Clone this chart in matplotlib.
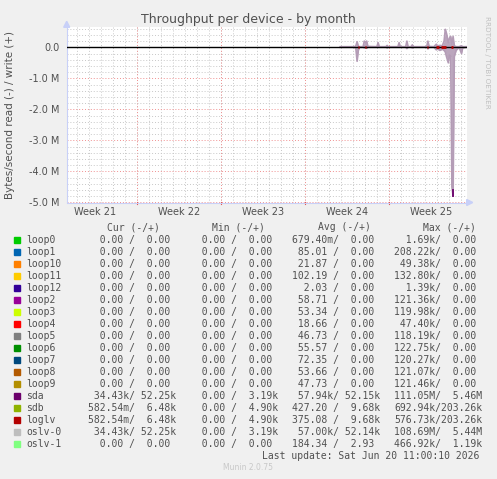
import matplotlib
matplotlib.use("Agg")
import matplotlib.pyplot as plt
from matplotlib.patches import Rectangle, Polygon

W, H = 497, 479

# --- data (days from left edge of graph, values in M bytes/s) ---
week_names = ["Week 21", "Week 22", "Week 23", "Week 24", "Week 25"]
week_starts = [5.86, 12.86, 19.86, 26.86]

# sda / oslv-0 : write (+) and read (-)
sda_t = [22.8, 24.0, 24.1, 24.2, 24.3, 24.4, 24.7, 24.8, 24.9, 25.0, 25.1, 25.85, 25.95, 26.05,
         26.6, 26.7, 26.8, 27.6, 27.7, 27.8, 28.25, 28.35, 28.45, 28.7, 28.8, 28.9, 30.0, 30.1,
         30.2, 30.6, 30.8, 30.9, 31.1, 31.3, 31.45, 31.55, 31.65, 31.8, 31.9, 32.0, 32.1, 32.2,
         32.3, 32.45, 32.7, 32.9, 33.0, 33.33]
sda_write = [0.02, 0.02, 0.05, 0.18, 0.04, 0.02, 0.02, 0.2, 0.15, 0.2, 0.03, 0.02, 0.15, 0.02,
             0.02, 0.06, 0.02, 0.02, 0.15, 0.02, 0.02, 0.2, 0.02, 0.02, 0.08, 0.02, 0.02, 0.2,
             0.03, 0.02, 0.1, 0.05, 0.06, 0.05, 0.2, 0.58, 0.45, 0.15, 0.3, 0.35, 0.1, 0.35,
             0.05, 0.02, 0.02, 0.05, 0.02, 0.02]
sda_read = [0.0, 0.0, -0.05, -0.45, -0.1, 0.0, 0.0, -0.02, 0.0, -0.03, 0.0, 0.0, 0.0, 0.0,
            0.0, -0.02, 0.0, 0.0, 0.0, 0.0, 0.0, -0.04, 0.0, 0.0, -0.02, 0.0, 0.0, -0.05,
            0.0, 0.0, -0.08, -0.05, -0.1, -0.06, -0.1, -0.15, -0.3, -0.5, -0.25, -0.3, -4.5, -4.8,
            -0.3, -0.1, 0.0, -0.2, -0.02, 0.0]

# loglv / sdb small activity near zero
loglv_t = [24.25, 24.35, 24.85, 24.95, 30.05, 30.15, 30.8, 31.0, 31.2, 31.6, 32.05, 32.2]
loglv_v = [0.01, 0.01, 0.01, 0.01, 0.01, 0.01, 0.01, 0.01, 0.01, 0.01, 0.01, 0.01]

names = ["loop0", "loop1", "loop10", "loop11", "loop12", "loop2", "loop3", "loop4", "loop5",
         "loop6", "loop7", "loop8", "loop9", "sda", "sdb", "loglv", "oslv-0", "oslv-1"]
colors = ["#00CC00", "#0066B3", "#FF8000", "#FFCC00", "#330099", "#990099", "#CCFF00", "#FF0000",
          "#808080", "#008F00", "#00487D", "#B35A00", "#B38F00", "#6B006B", "#8FB300", "#B30000",
          "#BEBEBE", "#80FF80"]
cur = ["  0.00 /  0.00 "] * 13 + [" 34.43k/ 52.25k", "582.54m/  6.48k", "582.54m/  6.48k",
                                  " 34.43k/ 52.25k", "  0.00 /  0.00 "]
mins = ["  0.00 /  0.00 "] * 13 + ["  0.00 /  3.19k", "  0.00 /  4.90k", "  0.00 /  4.90k",
                                   "  0.00 /  3.19k", "  0.00 /  0.00 "]
avgs = ["679.40m/  0.00 ", " 85.01 /  0.00 ", " 21.87 /  0.00 ", "102.19 /  0.00 ",
        "  2.03 /  0.00 ", " 58.71 /  0.00 ", " 53.34 /  0.00 ", " 18.66 /  0.00 ",
        " 46.73 /  0.00 ", " 55.57 /  0.00 ", " 72.35 /  0.00 ", " 53.66 /  0.00 ",
        " 47.73 /  0.00 ", " 57.94k/ 52.15k", "427.20 /  9.68k", "375.08 /  9.68k",
        " 57.00k/ 52.14k", "184.34 /  2.93 "]
maxs = ["  1.69k/  0.00 ", "208.22k/  0.00 ", " 49.38k/  0.00 ", "132.80k/  0.00 ",
        "  1.39k/  0.00 ", "121.36k/  0.00 ", "119.98k/  0.00 ", " 47.40k/  0.00 ",
        "118.19k/  0.00 ", "122.75k/  0.00 ", "120.27k/  0.00 ", "121.07k/  0.00 ",
        "121.46k/  0.00 ", "111.05M/  5.46M", "692.94k/203.26k", "576.73k/203.26k",
        "108.69M/  5.44M", "466.92k/  1.19k"]


def fx(px):
    return px / W


def fy(py):
    return 1 - py / H


fig = plt.figure(figsize=(W / 100, H / 100), dpi=100, facecolor="#F0F0F0")
L, R, T, B = 66.7, 466.7, 27.3, 202.5
ax = fig.add_axes([fx(L), fy(B), (R - L) / W, (B - T) / H])
ax.set_facecolor("white")
ax.set_xlim(0, 400 / 12)
ax.set_ylim(-5.0, 0.645)

# grid
for d in range(1, 34):
    x = 137 / 12 - 66.7 / 12 + (d - 6)
    if 0 < x < 400 / 12:
        ax.axvline(x, color="#C8C8C8", lw=0.7, ls=(0, (1, 2)), zorder=0)
for x in week_starts:
    ax.axvline(x, color="#F09090", lw=0.7, ls=(0, (1, 2)), zorder=0)
for k in range(-25, 4):
    y = k * 0.2
    if k % 5 == 0:
        ax.axhline(y, color="#F09090", lw=0.7, ls=(0, (1, 2)), zorder=0)
    else:
        ax.axhline(y, color="#C8C8C8", lw=0.7, ls=(0, (1, 2)), zorder=0)

# data
ax.fill_between(sda_t, sda_write, 0, color="#BBA6BD", lw=0, zorder=2)
ax.fill_between(sda_t, sda_read, 0, color="#BBA6BD", lw=0, zorder=2)
ax.plot(sda_t, sda_write, color="#B49CB6", lw=1.2, zorder=3)
ax.plot(sda_t, sda_read, color="#B49CB6", lw=1.2, zorder=3)
ax.axhline(0, color="black", lw=1.0, zorder=4)
for i in range(0, len(loglv_t), 2):
    ax.plot(loglv_t[i:i + 2], loglv_v[i:i + 2], color="#B30000", lw=2, zorder=5,
            solid_capstyle="butt")
ax.plot([32.2, 32.2], [-4.6, -4.8], color="#6B006B", lw=1.3, zorder=5)

ax.set_yticks([0, -1, -2, -3, -4, -5])
ax.set_yticklabels(["0.0", "-1.0 M", "-2.0 M", "-3.0 M", "-4.0 M", "-5.0 M"])
ax.set_xticks([(a + b) / 2 for a, b in zip([-1.14] + week_starts, week_starts + [33.86])])
ax.set_xticklabels(week_names)
ax.tick_params(axis="both", length=0, labelsize=7, colors="#505050")
ax.tick_params(axis="y", pad=5)
ax.tick_params(axis="x", pad=3)
for s in ["top", "right"]:
    ax.spines[s].set_visible(False)
for s in ["left", "bottom"]:
    ax.spines[s].set_color("#C8D0F8")
    ax.spines[s].set_linewidth(0.8)
for x in week_starts:
    ax.plot([x, x], [-5.0, -5.06], color="#E05050", lw=0.8, clip_on=False)

# axis arrows
fig.add_artist(Polygon([[fx(L - 3), fy(T)], [fx(L + 3), fy(T)], [fx(L), fy(T - 6)]],
                       closed=True, color="#C8D0F8", transform=fig.transFigure))
fig.add_artist(Polygon([[fx(R), fy(B - 3)], [fx(R), fy(B + 3)], [fx(R + 6), fy(B)]],
                       closed=True, color="#C8D0F8", transform=fig.transFigure))

fig.text(fx(248), fy(19), "Throughput per device - by month", ha="center", va="center",
         fontsize=9, color="#505050")
fig.text(fx(10), fy(115), "Bytes/second read (-) / write (+)", ha="center", va="center",
         rotation=90, fontsize=7.5, color="#505050")
fig.text(fx(487), fy(62), "RRDTOOL / TOBI OETIKER", ha="center", va="center",
         rotation=270, fontsize=5.2, color="#C0C0C0")

mono = dict(family="DejaVu Sans Mono", fontsize=7, color="#505050", va="center", ha="left")
for x, h in zip([107, 212.3, 318.3, 423.3], ["Cur (-/+)", "Min (-/+)", "Avg (-/+)", "Max (-/+)"]):
    fig.text(fx(x), fy(227.5), h, **mono)
for i, n in enumerate(names):
    y = 240 + 12 * i
    fig.add_artist(Rectangle((fx(14), fy(y + 3)), 6 / W, 6 / H, color=colors[i],
                             transform=fig.transFigure))
    fig.text(fx(26.5), fy(y), n, **mono)
    fig.text(fx(87.5), fy(y), cur[i], **mono)
    fig.text(fx(189.9), fy(y), mins[i], **mono)
    fig.text(fx(291.7), fy(y), avgs[i], **mono)
    fig.text(fx(394.3), fy(y), maxs[i], **mono)
fig.text(fx(261.5), fy(455.7), "Last update: Sat Jun 20 11:00:10 2026", **mono)
fig.text(fx(248), fy(467.5), "Munin 2.0.75", ha="center", va="center", fontsize=5.5,
         color="#C8C8C8")

fig.savefig("out.png", dpi=100, facecolor=fig.get_facecolor())
